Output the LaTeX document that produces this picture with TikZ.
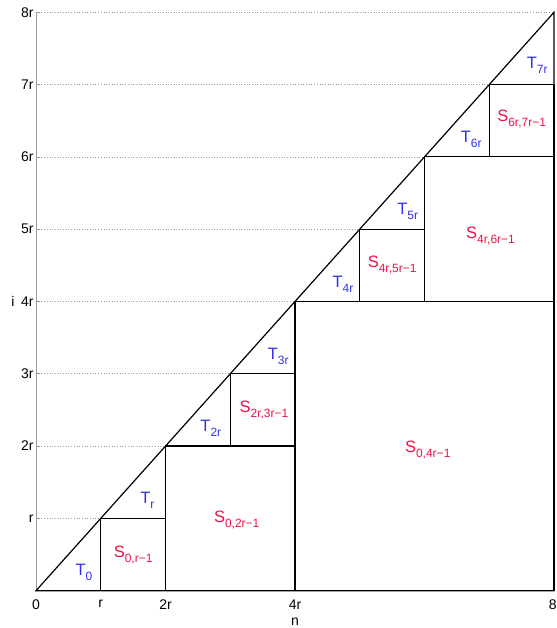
\documentclass[tikz,border=0pt]{standalone}
\usepackage{fontspec}
\setmainfont{Liberation Sans}
\usetikzlibrary{positioning}
\definecolor{tblue}{HTML}{3030EE}
\definecolor{sred}{HTML}{EE1144}
\definecolor{gridgray}{HTML}{9A9A9A}
\newcommand{\lowsub}[1]{\raisebox{-5pt}{\fontsize{12}{14}\selectfont #1}}

\begin{document}
\begin{tikzpicture}[
  x=64.75pt, y=72.3pt,
  box/.style={draw=black, line width=1.2pt},
  tlabel/.style={font=\fontsize{16.5}{18}\selectfont, tblue, inner sep=0pt},
  slabel/.style={font=\fontsize{16.5}{18}\selectfont, sred, inner sep=0pt},
  ticklabel/.style={font=\fontsize{14}{16}\selectfont, inner sep=0pt},
]
  \useasboundingbox (-0.556,-0.516) rectangle (8.046,8.170);

  % y axis with grid
  \draw[gridgray, line width=0.6pt] (0,0) -- (0,8);
  \foreach \k/\txt in {1/r, 2/2r, 3/3r, 4/4r, 5/5r, 6/6r, 7/7r, 8/8r} {
    \draw[gridgray, line width=0.6pt] (0,\k) -- ++(4pt,0);
    \draw[gridgray, line width=0.7pt, dotted] (0,\k) -- (\k,\k);
    \node[ticklabel, anchor=east] (y\k) at (-0.035,\k) {\txt};
  }
  \node[ticklabel, anchor=east] (ilabel) at (-0.33,4) {i};

  % x axis
  \node[ticklabel, anchor=north] (x0) at (0,-0.125) {0};
  \node[ticklabel, anchor=north] (x1) at (1,-0.125) {r};
  \node[ticklabel, anchor=north] (x2) at (2,-0.125) {2r};
  \node[ticklabel, anchor=north] (x4) at (4,-0.125) {4r};
  \node[ticklabel, anchor=north] (x8) at (7.98,-0.125) {8};
  \node[ticklabel, below=8pt of x4] (nlabel) {n};

  % squares and diagonal
  \draw[box] (0,0) -- (8,0) -- (8,8) -- cycle;
  \draw[box] (1,0) rectangle (2,1);
  \draw[box] (2,0) rectangle (4,2);
  \draw[box] (3,2) rectangle (4,3);
  \draw[box] (4,0) rectangle (8,4);
  \draw[box] (5,4) rectangle (6,5);
  \draw[box] (6,4) rectangle (8,6);
  \draw[box] (7,6) rectangle (8,7);

  % triangle labels
  \node[tlabel] (t0) at (0.74,0.26) {T\lowsub{0}};
  \node[tlabel] (t1) at (1.72,1.25) {T\lowsub{r}};
  \node[tlabel] (t2) at (2.70,2.24) {T\lowsub{2r}};
  \node[tlabel] (t3) at (3.74,3.24) {T\lowsub{3r}};
  \node[tlabel] (t4) at (4.74,4.24) {T\lowsub{4r}};
  \node[tlabel] (t5) at (5.74,5.24) {T\lowsub{5r}};
  \node[tlabel] (t6) at (6.72,6.24) {T\lowsub{6r}};
  \node[tlabel] (t7) at (7.74,7.26) {T\lowsub{7r}};

  % square labels
  \node[slabel] (s01) at (1.50,0.50) {S\lowsub{0,r−1}};
  \node[slabel] (s02) at (3.10,0.98) {S\lowsub{0,2r−1}};
  \node[slabel] (s23) at (3.52,2.50) {S\lowsub{2r,3r−1}};
  \node[slabel] (s04) at (6.05,1.95) {S\lowsub{0,4r−1}};
  \node[slabel] (s45) at (5.50,4.50) {S\lowsub{4r,5r−1}};
  \node[slabel] (s46) at (7.02,4.90) {S\lowsub{4r,6r−1}};
  \node[slabel] (s67) at (7.50,6.52) {S\lowsub{6r,7r−1}};
\end{tikzpicture}
\end{document}
